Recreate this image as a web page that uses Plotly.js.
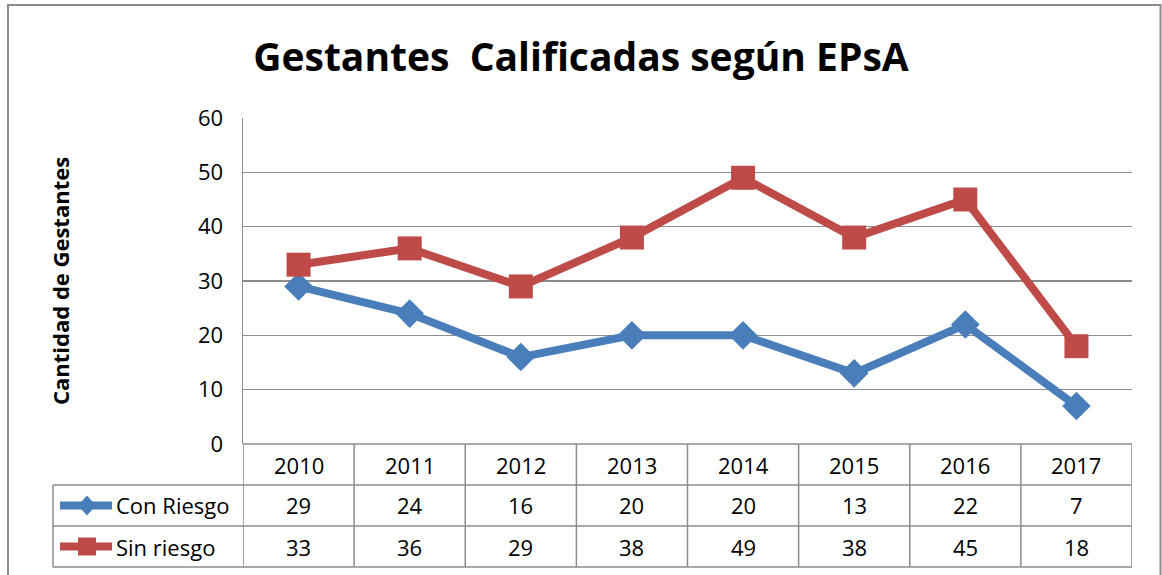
<!DOCTYPE html>
<html><head><meta charset="utf-8">
<script src="https://cdn.plot.ly/plotly-3.0.1.min.js"></script>
<style>html,body{margin:0;padding:0;background:#fff}#c{width:1162px;height:575px}</style>
</head><body><div id="c"></div>
<script>
const years = ['2010','2011','2012','2013','2014','2015','2016','2017'];
const conRiesgo = [29,24,16,20,20,13,22,7];
const sinRiesgo = [33,36,29,38,49,38,45,18];
const seriesNames = ['Con Riesgo','Sin riesgo'];
const titleText = 'Gestantes  Calificadas según EPsA';
const yTitle = 'Cantidad de Gestantes';

const W=1162,H=575, L=243, R=1132, T=118, B=444;
const pw=R-L, ph=B-T;
const px = v => (v-L)/pw;
const py = v => (B-v)/ph;
const grid='#8c8c8c';
const blue='#4A7EBB', red='#BE4B48';
const font='"Open Sans", "Liberation Sans", sans-serif';

const traces=[
 {x:years,y:conRiesgo,type:'scatter',mode:'lines+markers',name:seriesNames[0],
  line:{color:blue,width:8},marker:{symbol:'diamond',size:22,color:blue}},
 {x:years,y:sinRiesgo,type:'scatter',mode:'lines+markers',name:seriesNames[1],
  line:{color:red,width:8},marker:{symbol:'square',size:24,color:red}}
];

const shapes=[], ann=[];
shapes.push({type:'line',xref:'paper',yref:'paper',x0:0,x1:1,y0:0,y1:0,line:{color:grid,width:1.5}});
for(const r of [485,526,567]){
  shapes.push({type:'line',xref:'paper',yref:'paper',x0:px(53),x1:1,y0:py(r),y1:py(r),line:{color:grid,width:1.5}});
}
for(let i=0;i<=years.length;i++){
  shapes.push({type:'line',xref:'x',yref:'paper',x0:i-0.5,x1:i-0.5,y0:py(444),y1:py(567),line:{color:grid,width:1.5}});
}
shapes.push({type:'line',xref:'paper',yref:'paper',x0:px(53),x1:px(53),y0:py(485),y1:py(567),line:{color:grid,width:1.5}});
shapes.push({type:'path',xref:'paper',yref:'paper',
  path:`M ${px(8)} ${py(580)} L ${px(8)} ${py(5)} L ${px(1160.5)} ${py(5)} L ${px(1160.5)} ${py(580)}`,
  line:{color:'#8c8c8c',width:2}});
const keyRows=[[505.5,blue,'diamond'],[546.5,red,'square']];
keyRows.forEach(([yc,col,sym])=>{
  shapes.push({type:'line',xref:'paper',yref:'paper',x0:px(60),x1:px(112),y0:py(yc),y1:py(yc),line:{color:col,width:8}});
  const cx=87, s=9;
  if(sym==='diamond'){
    shapes.push({type:'path',xref:'paper',yref:'paper',
      path:`M ${px(cx)} ${py(yc-s-1)} L ${px(cx+s)} ${py(yc)} L ${px(cx)} ${py(yc+s+1)} L ${px(cx-s)} ${py(yc)} Z`,
      fillcolor:col,line:{width:0}});
  } else {
    shapes.push({type:'rect',xref:'paper',yref:'paper',x0:px(cx-s),x1:px(cx+s),y0:py(yc-s),y1:py(yc+s),fillcolor:col,line:{width:0}});
  }
});
const tf={family:font,size:22,color:'#000'};
years.forEach((yr,i)=>{
  ann.push({x:i,xref:'x',y:py(464.5),yref:'paper',text:yr,showarrow:false,font:tf,yanchor:'middle'});
  ann.push({x:i,xref:'x',y:py(505.5),yref:'paper',text:String(conRiesgo[i]),showarrow:false,font:tf,yanchor:'middle'});
  ann.push({x:i,xref:'x',y:py(546.5),yref:'paper',text:String(sinRiesgo[i]),showarrow:false,font:tf,yanchor:'middle'});
});
ann.push({x:px(114),xref:'paper',y:py(505.5),yref:'paper',text:seriesNames[0],showarrow:false,font:tf,xanchor:'left',yanchor:'middle'});
ann.push({x:px(114),xref:'paper',y:py(546.5),yref:'paper',text:seriesNames[1],showarrow:false,font:tf,xanchor:'left',yanchor:'middle'});
ann.push({x:px(60),xref:'paper',y:py(281),yref:'paper',text:'<b>'+yTitle+'</b>',textangle:-90,showarrow:false,
  font:{family:font,size:22,color:'#000'},xanchor:'center',yanchor:'middle'});

const layout={
  width:W,height:H,margin:{l:L,r:W-R,t:T,b:H-B},
  paper_bgcolor:'#fff',plot_bgcolor:'#fff',showlegend:false,
  title:{text:'<b>'+titleText+'</b>',x:0.5,xref:'container',y:1-57/575,yref:'container',yanchor:'middle',xanchor:'center',
    font:{family:font,size:39,color:'#000'}},
  xaxis:{type:'category',range:[-0.5,7.5],showticklabels:false,showgrid:false,zeroline:false,showline:false,ticks:''},
  yaxis:{range:[0,60],dtick:10,showgrid:true,gridcolor:grid,gridwidth:1.5,zeroline:false,showline:true,linecolor:grid,linewidth:1.5,
    ticks:'',ticklabelstandoff:14,tickfont:{family:font,size:22,color:'#000'}},
  shapes:shapes,annotations:ann
};
Plotly.newPlot('c',traces,layout,{displayModeBar:false,staticPlot:true});
</script></body></html>
